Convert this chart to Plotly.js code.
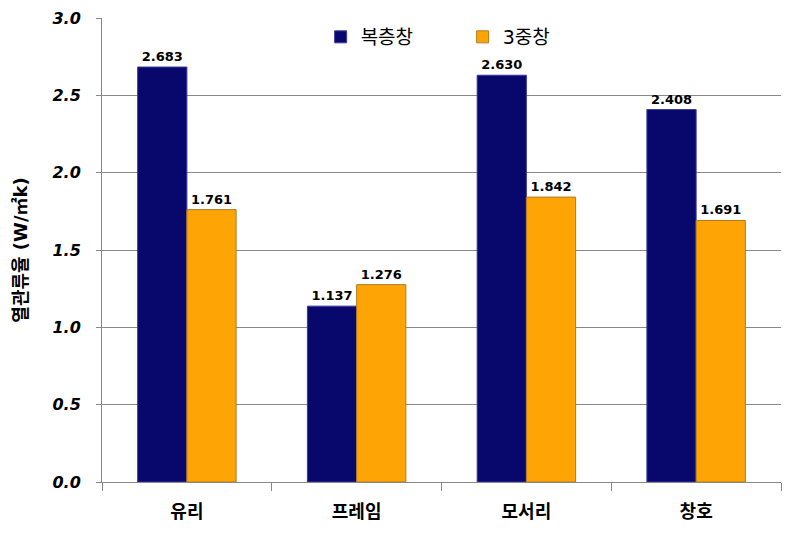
<!DOCTYPE html>
<html>
<head>
<meta charset="utf-8">
<script src="https://cdn.plot.ly/plotly-3.0.1.min.js"></script>
<style>
  body { margin: 0; background: #fff; }
  #chart { width: 792px; height: 535px; }
</style>
</head>
<body>
<div id="chart"></div>
<script>
const categories = ['유리', '프레임', '모서리', '창호'];
const seriesNames = ['복층창', '3중창'];
const doubleGlazing = [2.683, 1.137, 2.630, 2.408];
const tripleGlazing = [1.761, 1.276, 1.842, 1.691];
const yTicks = [0, 0.5, 1.0, 1.5, 2.0, 2.5, 3.0];

const korFont = 'DejaVu Sans, Noto Sans CJK KR, sans-serif';

const bar = (name, vals, fill, edge) => ({
    type: 'bar',
    name: name,
    x: categories,
    y: vals,
    text: vals.map(v => v.toFixed(3)),
    textposition: 'outside',
    cliponaxis: false,
    textfont: { family: 'DejaVu Sans', size: 13, color: '#000', weight: 'bold' },
    marker: { color: fill, line: { color: edge, width: 1 } }
});

const data = [
    bar(seriesNames[0], doubleGlazing, '#07076c', '#3a3aa0'),
    bar(seriesNames[1], tripleGlazing, '#ffa405', '#b07a20')
];

const layout = {
    width: 792,
    height: 535,
    margin: { l: 102, r: 11, t: 18, b: 53 },
    paper_bgcolor: '#fff',
    plot_bgcolor: '#fff',
    barmode: 'group',
    bargap: 0.42,
    bargroupgap: 0,
    showlegend: true,
    legend: {
        orientation: 'h',
        x: 0.322, y: 1.0, xanchor: 'left', yanchor: 'top',
        font: { family: korFont, size: 19, color: '#000' },
        itemwidth: 30,
        entrywidth: 97,
        entrywidthmode: 'pixels',
        bgcolor: 'rgba(0,0,0,0)'
    },
    xaxis: {
        showline: true, linecolor: '#888', linewidth: 1,
        ticks: 'outside', ticklen: 8, tickcolor: '#888',
        tickson: 'boundaries',
        ticklabelstandoff: 13,
        tickfont: { family: korFont, size: 18, color: '#000', weight: 'bold' }
    },
    yaxis: {
        range: [0, 3.0],
        tickvals: yTicks,
        ticktext: yTicks.map(v => v.toFixed(1)),
        showgrid: true, gridcolor: '#888', gridwidth: 1,
        showline: true, linecolor: '#888', linewidth: 1,
        ticks: 'outside', ticklen: 5, tickcolor: '#888',
        ticklabelstandoff: 12,
        zeroline: false,
        tickfont: { family: 'DejaVu Sans', size: 16, color: '#000', weight: 'bold', style: 'italic' },
        title: {
            text: '열관류율 (W/㎡k)',
            standoff: 20,
            font: { family: korFont, size: 18, color: '#000', weight: 'bold' }
        }
    }
};

Plotly.newPlot('chart', data, layout, { displayModeBar: false });
</script>
</body>
</html>
